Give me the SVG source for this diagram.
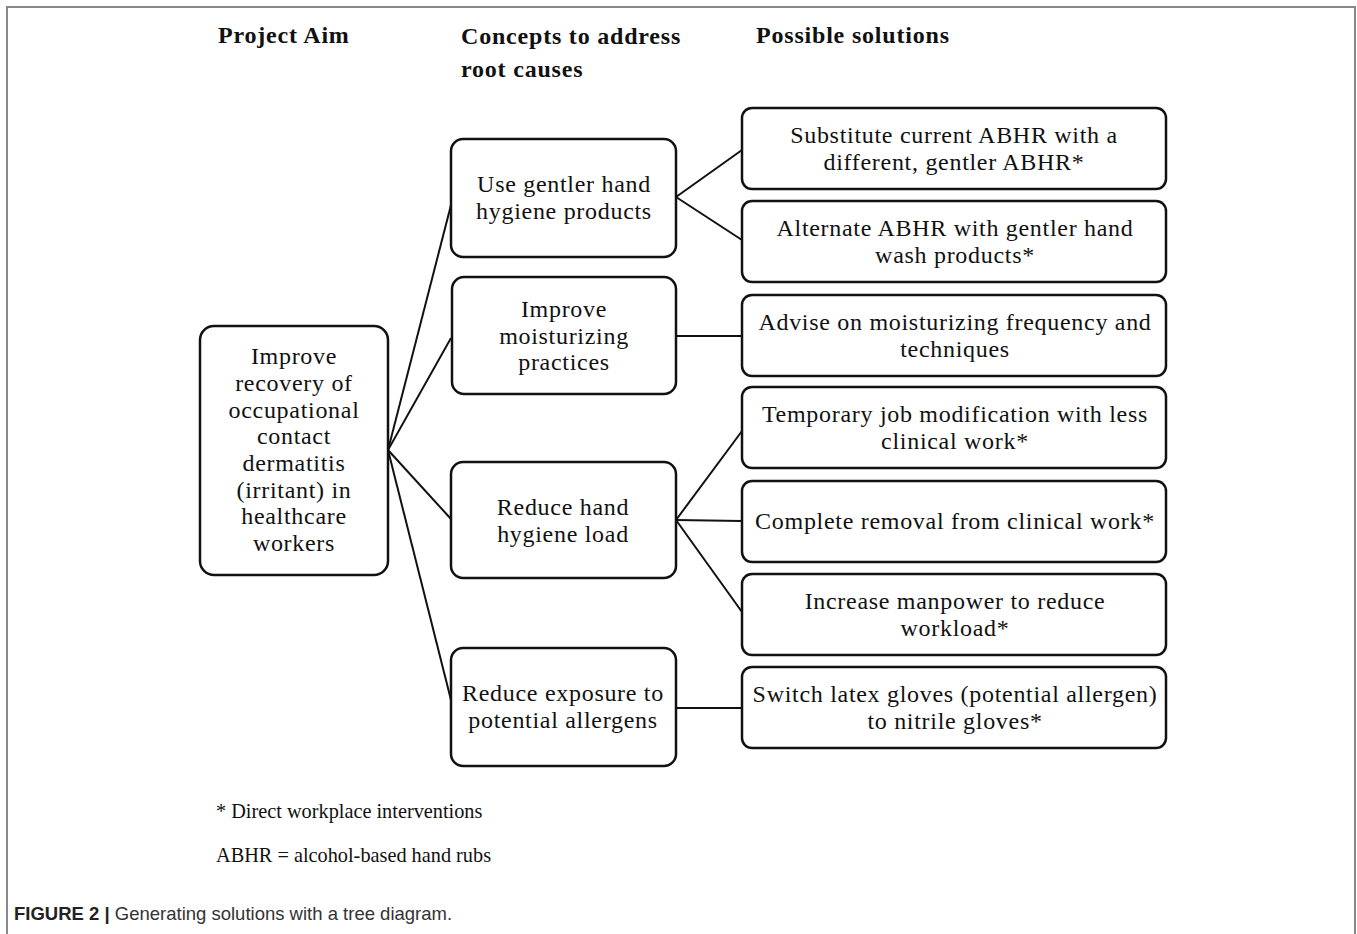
<svg xmlns="http://www.w3.org/2000/svg" width="1357" height="934" viewBox="0 0 1357 934">
<style>
.box{fill:#fff;stroke:#111;stroke-width:2.5}
.t{font-family:"Liberation Serif","Times New Roman",serif;font-size:24px;letter-spacing:0.7px;fill:#111;text-anchor:middle}
.h{font-family:"Liberation Serif","Times New Roman",serif;font-size:24px;letter-spacing:0.8px;font-weight:bold;fill:#111}
.f{font-family:"Liberation Serif","Times New Roman",serif;font-size:20.3px;fill:#111}
.conn line{stroke:#111;stroke-width:2}
</style>
<rect width="1357" height="934" fill="#fff"/>
<path d="M7,934 V7 H1355 V934" fill="none" stroke="#888" stroke-width="2"/>
<g id="headers">
<text class="h" x="218" y="43">Project Aim</text>
<text class="h" x="461" y="44">Concepts to address</text>
<text class="h" x="461" y="77">root causes</text>
<text class="h" x="756" y="43">Possible solutions</text>
</g>
<g id="connectors" class="conn">
<line x1="388" y1="450" x2="451" y2="205"/>
<line x1="388" y1="450" x2="451" y2="338"/>
<line x1="388" y1="450" x2="451" y2="519"/>
<line x1="388" y1="450" x2="451" y2="700"/>
<line x1="676" y1="197" x2="742" y2="150"/>
<line x1="676" y1="197" x2="742" y2="240"/>
<line x1="676" y1="336" x2="742" y2="336"/>
<line x1="676" y1="520" x2="742" y2="431"/>
<line x1="676" y1="520" x2="742" y2="521"/>
<line x1="676" y1="520" x2="742" y2="612"/>
<line x1="676" y1="708" x2="742" y2="708"/>
</g>
<g id="aim">
<rect class="box" x="200" y="326" width="188" height="249" rx="14"/>
<text class="t"><tspan x="294" y="364">Improve</tspan><tspan x="294" y="391">recovery of</tspan><tspan x="294" y="418">occupational</tspan><tspan x="294" y="444">contact</tspan><tspan x="294" y="471">dermatitis</tspan><tspan x="294" y="498">(irritant) in</tspan><tspan x="294" y="524">healthcare</tspan><tspan x="294" y="551">workers</tspan></text>
</g>
<g id="c1">
<rect class="box" x="451" y="139" width="225" height="118" rx="12"/>
<text class="t"><tspan x="564" y="192">Use gentler hand</tspan><tspan x="564" y="219">hygiene products</tspan></text>
</g>
<g id="c2">
<rect class="box" x="452" y="277" width="224" height="117" rx="12"/>
<text class="t"><tspan x="564" y="317">Improve</tspan><tspan x="564" y="344">moisturizing</tspan><tspan x="564" y="370">practices</tspan></text>
</g>
<g id="c3">
<rect class="box" x="451" y="462" width="225" height="116" rx="12"/>
<text class="t"><tspan x="563" y="515">Reduce hand</tspan><tspan x="563" y="542">hygiene load</tspan></text>
</g>
<g id="c4">
<rect class="box" x="451" y="648" width="225" height="118" rx="12"/>
<text class="t"><tspan x="563" y="701">Reduce exposure to</tspan><tspan x="563" y="728">potential allergens</tspan></text>
</g>
<g id="s1">
<rect class="box" x="742" y="108" width="424" height="81" rx="10"/>
<text class="t"><tspan x="954" y="143">Substitute current ABHR with a</tspan><tspan x="954" y="170">different, gentler ABHR*</tspan></text>
</g>
<g id="s2">
<rect class="box" x="742" y="201" width="424" height="81" rx="10"/>
<text class="t"><tspan x="955" y="236">Alternate ABHR with gentler hand</tspan><tspan x="955" y="263">wash products*</tspan></text>
</g>
<g id="s3">
<rect class="box" x="742" y="295" width="424" height="81" rx="10"/>
<text class="t"><tspan x="955" y="330">Advise on moisturizing frequency and</tspan><tspan x="955" y="357">techniques</tspan></text>
</g>
<g id="s4">
<rect class="box" x="742" y="387" width="424" height="81" rx="10"/>
<text class="t"><tspan x="955" y="422">Temporary job modification with less</tspan><tspan x="955" y="449">clinical work*</tspan></text>
</g>
<g id="s5">
<rect class="box" x="742" y="481" width="424" height="81" rx="10"/>
<text class="t"><tspan x="955" y="529">Complete removal from clinical work*</tspan></text>
</g>
<g id="s6">
<rect class="box" x="742" y="574" width="424" height="81" rx="10"/>
<text class="t"><tspan x="955" y="609">Increase manpower to reduce</tspan><tspan x="955" y="636">workload*</tspan></text>
</g>
<g id="s7">
<rect class="box" x="742" y="667" width="424" height="81" rx="10"/>
<text class="t"><tspan x="955" y="702">Switch latex gloves (potential allergen)</tspan><tspan x="955" y="729">to nitrile gloves*</tspan></text>
</g>
<g id="notes">
<text class="f" x="216" y="818">* Direct workplace interventions</text>
<text class="f" x="216" y="862">ABHR = alcohol-based hand rubs</text>
</g>
<g id="caption">
<text x="14" y="920" font-family="'Liberation Sans',Arial,sans-serif" font-size="18.5" fill="#333"><tspan font-weight="bold" fill="#222">FIGURE 2 |</tspan> Generating solutions with a tree diagram.</text>
</g>
</svg>
